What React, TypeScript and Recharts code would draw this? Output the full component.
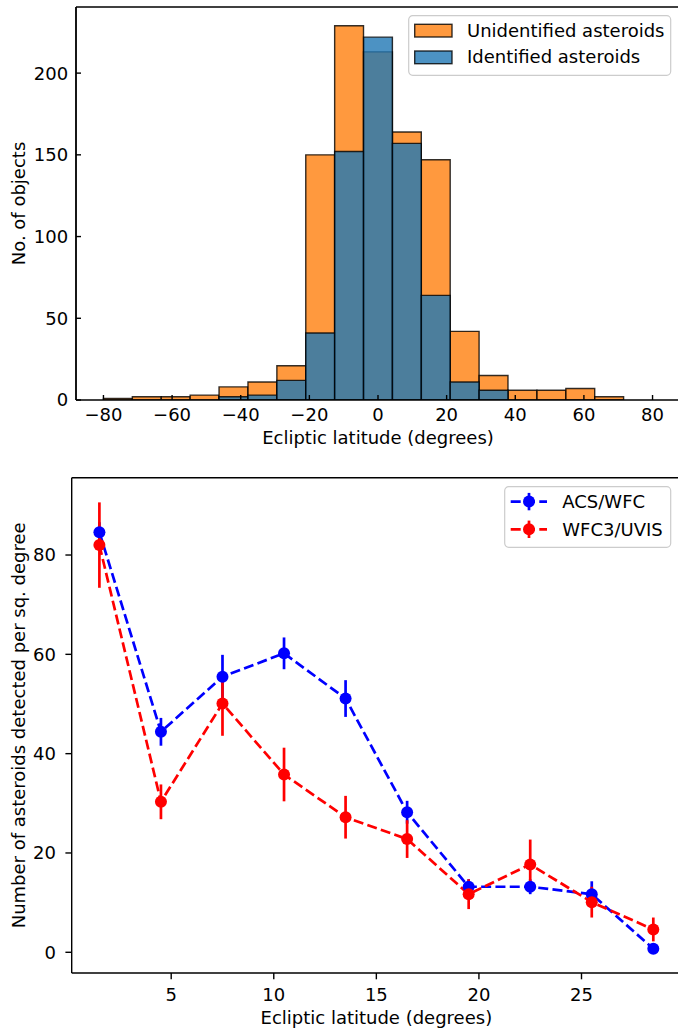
import React from "react";
import {
  ComposedChart,
  Bar,
  Line,
  ErrorBar,
  XAxis,
  YAxis,
  ReferenceLine,
  Legend,
} from "recharts";

// Histogram bins (centres of 19 equal bins between -80 and 80 degrees)
const BIN_CENTERS = [
  -75.79, -67.37, -58.95, -50.53, -42.11, -33.68, -25.26, -16.84, -8.42, 0,
  8.42, 16.84, 25.26, 33.68, 42.11, 50.53, 58.95, 67.37, 75.79,
];
const UNIDENTIFIED = [1, 2, 2, 3, 8, 11, 21, 150, 229, 213, 164, 147, 42, 15, 6, 6, 7, 2, 0];
const IDENTIFIED = [0, 0, 0, 0, 2, 3, 12, 41, 152, 222, 157, 64, 11, 6, 0, 0, 0, 0, 0];
const TOP_X_TICKS = [-80, -60, -40, -20, 0, 20, 40, 60, 80];
const TOP_Y_TICKS = [0, 50, 100, 150, 200];

// Detection density vs ecliptic latitude
const LATITUDES = [1.5, 4.5, 7.5, 10.5, 13.5, 16.5, 19.5, 22.5, 25.5, 28.5];
const ACS = [84.6, 44.4, 55.5, 60.2, 51.1, 28.2, 13.2, 13.2, 11.7, 0.7];
const ACS_ERR = [2.0, 2.8, 4.4, 3.2, 3.7, 2.3, 1.5, 1.5, 2.6, 0.5];
const WFC3 = [82.0, 30.3, 50.1, 35.8, 27.2, 22.8, 11.7, 17.7, 10.1, 4.6];
const WFC3_ERR = [8.6, 3.5, 6.5, 5.4, 4.3, 3.8, 3.0, 5.0, 3.1, 2.4];
const BOT_X_TICKS = [5, 10, 15, 20, 25];
const BOT_Y_TICKS = [0, 20, 40, 60, 80];

const FONT = "'DejaVu Sans', sans-serif";
const FS = 18;
const W = 682;
const ORANGE = "#ff7f0e";
const BLUE = "#1f77b4";

const TOP_LEFT = 76;
const TOP_RIGHT = 2;
const TOP_X_DOMAIN: [number, number] = [-88, 88];
const TOP_Y_MAX = 240.45;
const BIN_WIDTH = 160 / 19;
const BAR_PX =
  ((W - TOP_LEFT - TOP_RIGHT) * BIN_WIDTH) / (TOP_X_DOMAIN[1] - TOP_X_DOMAIN[0]) - 0.05;

const BOT_X_DOMAIN: [number, number] = [0.15, 29.85];
const BOT_Y_DOMAIN: [number, number] = [-4.17, 95.57];

const histData = BIN_CENTERS.map((c, i) => ({
  center: c,
  unidentified: UNIDENTIFIED[i],
  identified: IDENTIFIED[i],
}));

const densityData = LATITUDES.map((lat, i) => ({
  lat,
  acs: ACS[i],
  acsErr: ACS_ERR[i],
  wfc3: WFC3[i],
  wfc3Err: WFC3_ERR[i],
}));

const minus = (v: number) => String(v).replace("-", "\u2212");

const axisLine = { stroke: "#000", strokeWidth: 1.4 };
const tickLine = { stroke: "#000", strokeWidth: 1.4 };
const tickStyle = { fill: "#000", fontSize: FS, fontFamily: FONT };
const labelStyle = { fill: "#000", fontSize: FS, fontFamily: FONT };

// the histogram panel has its ticks pointing into the plot
function InwardXTick(props: any) {
  const { x, y, payload } = props;
  return (
    <g>
      <line x1={x} x2={x} y1={y} y2={y - 5} stroke="#000" strokeWidth={1.4} />
      <text x={x} y={y + 20.7} textAnchor="middle" fontSize={FS} fontFamily={FONT} fill="#000">
        {minus(payload.value)}
      </text>
    </g>
  );
}

function InwardYTick(props: any) {
  const { x, y, payload } = props;
  return (
    <g>
      <line x1={x} x2={x + 5} y1={y} y2={y} stroke="#000" strokeWidth={1.4} />
      <text x={x - 7.8} y={y + 6.4} textAnchor="end" fontSize={FS} fontFamily={FONT} fill="#000">
        {payload.value}
      </text>
    </g>
  );
}

function HistLegend() {
  const rows = [
    { label: "Unidentified asteroids", color: ORANGE, y: 9.3, base: 21.6 },
    { label: "Identified asteroids", color: BLUE, y: 36, base: 48.3 },
  ];
  return (
    <svg width={264} height={62} style={{ display: "block" }}>
      <rect x={0.7} y={0.7} width={262} height={59.6} rx={4} fill="#fff" fillOpacity={0.8} stroke="#cccccc" strokeWidth={1.2} />
      {rows.map((r) => (
        <g key={r.label}>
          <rect x={6.7} y={r.y} width={37.3} height={12.7} fill={r.color} fillOpacity={0.8} stroke="#000" strokeOpacity={0.8} strokeWidth={1.4} />
          <text x={59} y={r.base} fontSize={FS} fontFamily={FONT} fill="#000">
            {r.label}
          </text>
        </g>
      ))}
    </svg>
  );
}

function DensityLegend() {
  const rows = [
    { label: "ACS/WFC", color: "#0000ff", cy: 15.6 },
    { label: "WFC3/UVIS", color: "#ff0000", cy: 43.3 },
  ];
  return (
    <svg width={168} height={63} style={{ display: "block" }}>
      <rect x={0.7} y={0.7} width={166} height={60.6} rx={4} fill="#fff" fillOpacity={0.8} stroke="#cccccc" strokeWidth={1.2} />
      {rows.map((r) => (
        <g key={r.label}>
          <line x1={6.7} x2={43} y1={r.cy} y2={r.cy} stroke={r.color} strokeWidth={2.7} strokeDasharray="10 4.3" />
          <line x1={25} x2={25} y1={r.cy - 8.7} y2={r.cy + 8.7} stroke={r.color} strokeWidth={2.7} />
          <circle cx={25} cy={r.cy} r={6} fill={r.color} />
          <text x={58.3} y={r.cy + 6.5} fontSize={FS} fontFamily={FONT} fill="#000">
            {r.label}
          </text>
        </g>
      ))}
    </svg>
  );
}

export default function App() {
  return (
    <div
      style={{
        position: "absolute",
        left: 0,
        top: 0,
        width: 678,
        height: 1032,
        overflow: "hidden",
        background: "#fff",
        fontFamily: FONT,
      }}
    >
      <div style={{ position: "absolute", left: 0, top: 0 }}>
        <ComposedChart
          width={W}
          height={460}
          data={histData}
          margin={{ top: 7, right: TOP_RIGHT, bottom: 0, left: 0 }}
        >
          <XAxis
            xAxisId="unid"
            type="number"
            dataKey="center"
            domain={TOP_X_DOMAIN}
            allowDataOverflow
            ticks={TOP_X_TICKS}
            interval={0}
            height={60}
            tickSize={0}
            tickMargin={0}
            tick={<InwardXTick />}
            tickLine={false}
            axisLine={axisLine}
            label={{
              value: "Ecliptic latitude (degrees)",
              position: "insideBottom",
              offset: 16.5,
              style: labelStyle,
            }}
          />
          <XAxis
            xAxisId="id"
            type="number"
            dataKey="center"
            domain={TOP_X_DOMAIN}
            allowDataOverflow
            height={0}
            hide
          />
          <YAxis
            type="number"
            domain={[0, TOP_Y_MAX]}
            allowDataOverflow
            ticks={TOP_Y_TICKS}
            interval={0}
            width={TOP_LEFT}
            tickSize={0}
            tickMargin={0}
            tick={<InwardYTick />}
            tickLine={false}
            axisLine={axisLine}
            label={{
              value: "No. of objects",
              angle: -90,
              position: "insideLeft",
              offset: 18.6,
              style: { ...labelStyle, textAnchor: "middle" },
            }}
          />
          <ReferenceLine xAxisId="unid" y={TOP_Y_MAX} stroke="#000" strokeWidth={1.4} />
          <ReferenceLine xAxisId="unid" x={TOP_X_DOMAIN[0]} stroke="#000" strokeWidth={1.4} />
          <Bar
            xAxisId="unid"
            dataKey="unidentified"
            name="Unidentified asteroids"
            fill={ORANGE}
            fillOpacity={0.8}
            stroke="#000"
            strokeOpacity={0.8}
            strokeWidth={1.4}
            barSize={BAR_PX}
            isAnimationActive={false}
          />
          <Bar
            xAxisId="id"
            dataKey="identified"
            name="Identified asteroids"
            fill={BLUE}
            fillOpacity={0.8}
            stroke="#000"
            strokeOpacity={0.8}
            strokeWidth={1.4}
            barSize={BAR_PX}
            isAnimationActive={false}
          />
          <Legend
            layout="horizontal"
            verticalAlign="middle"
            align="center"
            wrapperStyle={{ left: 407.6, top: 15, width: 264, height: 62 }}
            content={() => <HistLegend />}
          />
        </ComposedChart>
      </div>

      <div style={{ position: "absolute", left: 0, top: 460 }}>
        <ComposedChart
          width={W}
          height={572}
          data={densityData}
          margin={{ top: 17.7, right: 1, bottom: 0, left: 0 }}
        >
          <XAxis
            type="number"
            dataKey="lat"
            domain={BOT_X_DOMAIN}
            allowDataOverflow
            ticks={BOT_X_TICKS}
            interval={0}
            height={59}
            tickSize={6.3}
            tickMargin={8.6}
            tick={tickStyle}
            tickLine={tickLine}
            axisLine={axisLine}
            label={{
              value: "Ecliptic latitude (degrees)",
              position: "insideBottom",
              offset: 8.5,
              style: labelStyle,
            }}
          />
          <YAxis
            type="number"
            domain={BOT_Y_DOMAIN}
            allowDataOverflow
            ticks={BOT_Y_TICKS}
            interval={0}
            width={71.7}
            tickSize={6.3}
            tickMargin={9.5}
            tick={tickStyle}
            tickLine={tickLine}
            axisLine={axisLine}
            label={{
              value: "Number of asteroids detected per sq. degree",
              angle: -90,
              position: "insideLeft",
              offset: 18.6,
              style: { ...labelStyle, textAnchor: "middle" },
            }}
          />
          <ReferenceLine y={BOT_Y_DOMAIN[1]} stroke="#000" strokeWidth={1.4} />
          <Line
            type="linear"
            dataKey="acs"
            name="ACS/WFC"
            stroke="#0000ff"
            strokeWidth={2.7}
            strokeDasharray="10 4.3"
            dot={{ r: 6, fill: "#0000ff", stroke: "none", strokeWidth: 0 }}
            activeDot={false}
            isAnimationActive={false}
          >
            <ErrorBar dataKey="acsErr" direction="y" width={0} stroke="#0000ff" strokeWidth={2.7} />
          </Line>
          <Line
            type="linear"
            dataKey="wfc3"
            name="WFC3/UVIS"
            stroke="#ff0000"
            strokeWidth={2.7}
            strokeDasharray="10 4.3"
            dot={{ r: 6, fill: "#ff0000", stroke: "none", strokeWidth: 0 }}
            activeDot={false}
            isAnimationActive={false}
          >
            <ErrorBar dataKey="wfc3Err" direction="y" width={0} stroke="#ff0000" strokeWidth={2.7} />
          </Line>
          <Legend
            layout="horizontal"
            verticalAlign="middle"
            align="center"
            wrapperStyle={{ left: 504.3, top: 26, width: 168, height: 63 }}
            content={() => <DensityLegend />}
          />
        </ComposedChart>
      </div>
    </div>
  );
}
